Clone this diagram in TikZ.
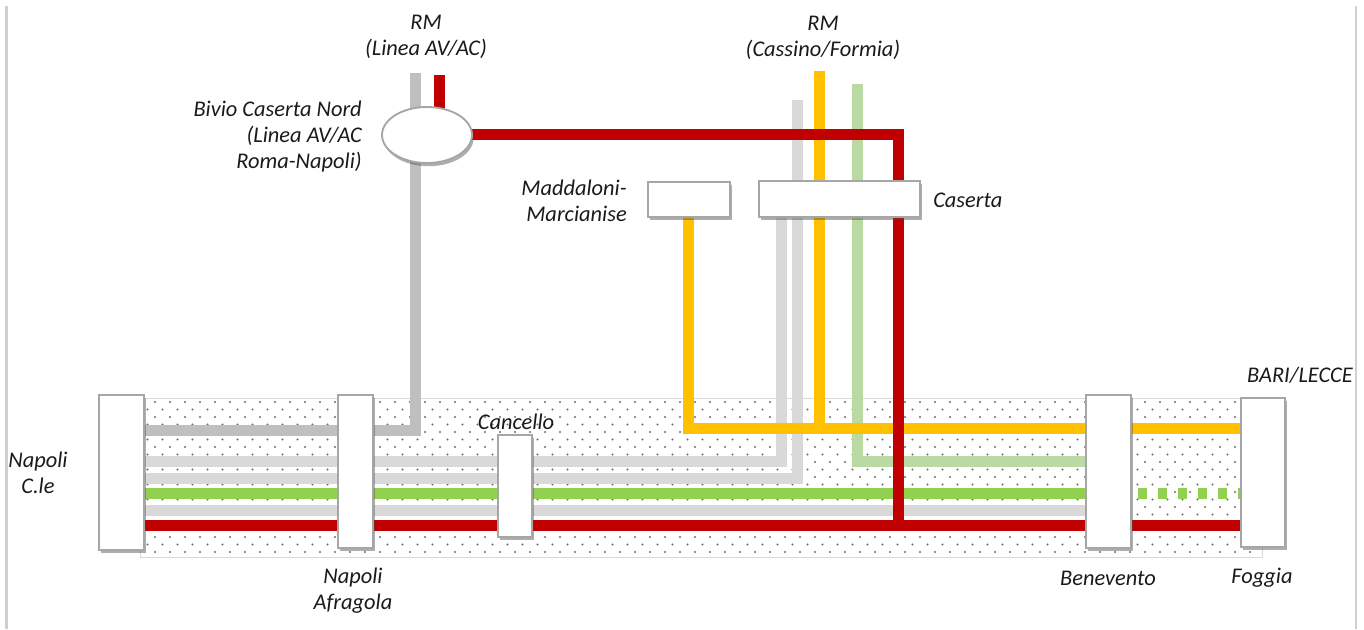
\documentclass[tikz,border=0pt]{standalone}
\usepackage{fontspec}
\setmainfont{Carlito}
\usetikzlibrary{shadows,shapes.geometric}
\definecolor{cgray}{HTML}{BFBFBF}
\definecolor{clgray}{HTML}{D9D9D9}
\definecolor{cgreen}{HTML}{92D050}
\definecolor{clgreen}{HTML}{BAD9A3}
\definecolor{cyellow}{HTML}{FFC000}
\definecolor{cred}{HTML}{C00000}
\definecolor{cborder}{HTML}{A6A6A6}
\definecolor{ctext}{HTML}{1A1A1A}
\definecolor{cdot}{HTML}{6E6E6E}
\definecolor{cframe}{HTML}{CFCFCF}
\begin{document}
\begin{tikzpicture}[x=0.75pt,y=-0.75pt,
  track/.style={line width=8.25pt,line cap=butt,line join=miter},
  stn/.style={draw=cborder,line width=1.4pt,fill=white,inner sep=0pt,outer sep=0pt,
    drop shadow={shadow xshift=1.2pt,shadow yshift=-2.4pt,opacity=0.45,fill=black!70}},
  lbl/.style={font=\itshape\fontsize{16.8}{19.5}\selectfont,text=ctext,inner sep=0pt,align=center}]
\useasboundingbox (0,0) rectangle (1364,629);
% frame
\draw[cframe,line width=2.2pt] (6.5,6) -- (6.5,629);
\draw[cframe,line width=2.2pt] (1356,6) -- (1356,629);
% dotted band
\fill[white] (140,398) rectangle (1262,557);
\begin{scope}
\clip (140,398) rectangle (1262,557);
\foreach \r [evaluate=\r as \yy using {402+\r*7.5}, evaluate=\r as \off using {mod(\r,2)*7.5}] in {0,...,21}{
  \foreach \c in {0,...,75}{
    \fill[cdot] ({140+\off+\c*15},\yy) circle[radius=0.8pt];
  }
}
\end{scope}
\draw[clgray,line width=0.6pt] (140,398) rectangle (1262,557);
% coordinates
\coordinate (gTop) at (415,73);
\coordinate (gBend) at (415,430);
\coordinate (gEnd) at (120,430);
\coordinate (l1a) at (120,461); \coordinate (l1b) at (781,461); \coordinate (l1c) at (781,205);
\coordinate (l2a) at (120,478); \coordinate (l2b) at (797,478); \coordinate (l2c) at (797,100);
\coordinate (l3a) at (120,510); \coordinate (l3b) at (1108,510);
\coordinate (gra) at (120,493); \coordinate (grb) at (1108,493);
\coordinate (grd1) at (1138,493); \coordinate (grd2) at (1241,493);
\coordinate (lga) at (857,84); \coordinate (lgb) at (857,461); \coordinate (lgc) at (1108,461);
\coordinate (ya) at (688,205); \coordinate (yb) at (688,428); \coordinate (yc) at (1262,428);
\coordinate (yt) at (819,71); \coordinate (yj) at (819,428);
\coordinate (rTop) at (439,75); \coordinate (rTopEnd) at (439,120);
\coordinate (rs) at (430,134); \coordinate (rc) at (898,134); \coordinate (rd) at (898,525);
\coordinate (ra) at (120,525); \coordinate (rb) at (1262,525);
% tracks
\draw[track,cgray] (gTop) -- (gBend) -- (gEnd);
\draw[track,clgray] (l1a) -- (l1b) -- (l1c);
\draw[track,clgray] (l2a) -- (l2b) -- (l2c);
\draw[track,clgray] (l3a) -- (l3b);
\draw[track,clgreen] (lga) -- (lgb) -- (lgc);
\draw[track,cgreen] (gra) -- (grb);
\draw[track,cgreen,dash pattern=on 6.75pt off 8.25pt] (grd1) -- (grd2);
\draw[track,cyellow] (ya) -- (yb) -- (yc);
\draw[track,cyellow] (yt) -- (yj);
\draw[track,cred] (rTop) -- (rTopEnd);
\draw[track,cred] (rs) -- (rc) -- (rd);
\draw[track,cred] (ra) -- (rb);
% stations
\node[stn,minimum width=33.75pt,minimum height=116.25pt] (napc) at (121.5,472.5) {};
\node[stn,minimum width=26.25pt,minimum height=114.75pt] (afr) at (355.5,471.5) {};
\node[stn,minimum width=25.5pt,minimum height=76.5pt] (canc) at (515,486) {};
\node[stn,minimum width=33.75pt,minimum height=114.75pt] (bene) at (1108.5,471.5) {};
\node[stn,minimum width=33pt,minimum height=111.75pt] (fogg) at (1263,472.5) {};
\node[stn,minimum width=61.5pt,minimum height=26.25pt] (madd) at (689,199.5) {};
\node[stn,minimum width=120.75pt,minimum height=27pt] (case) at (839.5,199) {};
\node[stn,ellipse,minimum width=67.5pt,minimum height=42pt] (bivio) at (427,135) {};
% labels
\node[lbl] (tRM1) at (426,37) {RM\\(Linea AV/AC)};
\node[lbl] (tRM2) at (823,38) {RM\\(Cassino/Formia)};
\node[lbl,align=right,anchor=east] (tBivio) at (362,137) {Bivio Caserta Nord\\(Linea AV/AC\\Roma-Napoli)};
\node[lbl,align=right,anchor=east] (tMadd) at (627,201) {Maddaloni-\\Marcianise};
\node[lbl,anchor=west] (tCase) at (933,200) {Caserta};
\node[lbl] (tCanc) at (516,422) {Cancello};
\node[lbl] (tNapc) at (38,473) {Napoli\\C.le};
\node[lbl] (tAfr) at (353,591) {Napoli\\Afragola};
\node[lbl] (tBene) at (1108,578) {Benevento};
\node[lbl] (tFogg) at (1262,578) {Foggia};
\node[lbl] (tBari) at (1300,375) {BARI/LECCE};
\end{tikzpicture}
\end{document}
